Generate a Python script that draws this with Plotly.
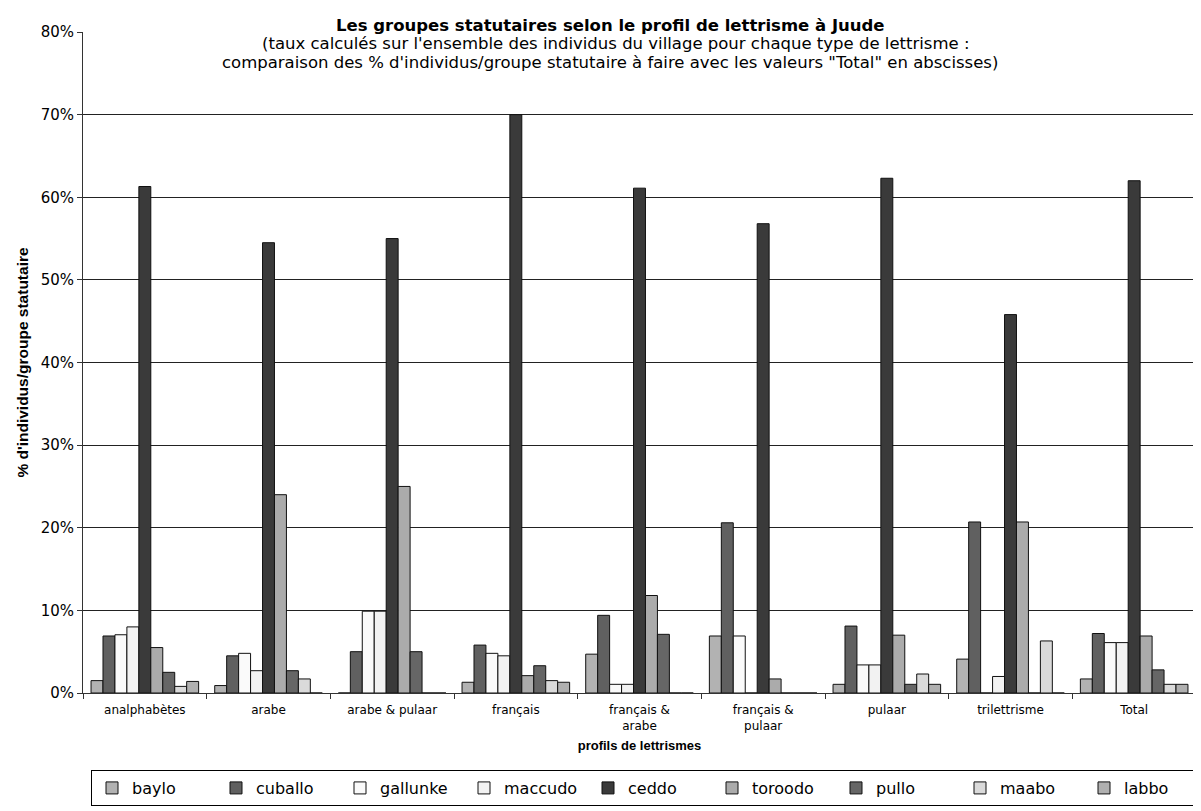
import plotly.graph_objects as go

categories = ["analphabètes", "arabe", "arabe & pulaar", "français", "français &<br>arabe",
              "français &<br>pulaar", "pulaar", "trilettrisme", "Total"]
series_names = ["baylo", "cuballo", "gallunke", "maccudo", "ceddo", "toroodo", "pullo", "maabo", "labbo"]

baylo    = [1.5, 0.9, 0.0, 1.3, 4.7, 6.9, 1.05, 4.1, 1.7]
cuballo  = [6.9, 4.5, 5.0, 5.8, 9.4, 20.6, 8.1, 20.7, 7.2]
gallunke = [7.05, 4.8, 9.9, 4.8, 1.05, 6.9, 3.4, 0.0, 6.1]
maccudo  = [8.0, 2.7, 9.9, 4.5, 1.05, 0.0, 3.4, 2.0, 6.1]
ceddo    = [61.3, 54.5, 55.0, 70.0, 61.1, 56.8, 62.3, 45.8, 62.0]
toroodo  = [5.5, 24.0, 25.0, 2.1, 11.8, 1.7, 7.0, 20.7, 6.9]
pullo    = [2.5, 2.7, 5.0, 3.3, 7.1, 0.0, 1.05, 0.0, 2.8]
maabo    = [0.8, 1.7, 0.0, 1.5, 0.0, 0.0, 2.3, 6.3, 1.05]
labbo    = [1.4, 0.0, 0.0, 1.3, 0.0, 0.0, 1.05, 0.0, 1.05]

values = [baylo, cuballo, gallunke, maccudo, ceddo, toroodo, pullo, maabo, labbo]
colors = ["#b2b2b2", "#606060", "#fafafa", "#f2f2f2", "#3a3a3a", "#ababab", "#666666", "#dadada", "#b0b0b0"]

y_ticks = [0, 10, 20, 30, 40, 50, 60, 70, 80]
y_labels = [f"{v}%" for v in y_ticks]

SANS = "DejaVu Sans, Verdana, sans-serif"
NARROW = "Liberation Sans, Arial, sans-serif"

fig = go.Figure()
for name, vals, col in zip(series_names, values, colors):
    fig.add_trace(go.Bar(
        name=name, x=categories, y=vals,
        marker=dict(color=col, line=dict(color="#111111", width=1)),
    ))

fig.update_layout(
    width=1193, height=803,
    paper_bgcolor="white", plot_bgcolor="white",
    margin=dict(l=75, r=5, t=24, b=118, autoexpand=False),
    barmode="group", bargap=0.13, bargroupgap=0,
    font=dict(family=SANS, size=13, color="#000000"),
    showlegend=True,
    legend=dict(
        orientation="h", x=0.0072, xanchor="left", y=-0.1165, yanchor="top",
        bordercolor="#000000", borderwidth=1,
        font=dict(family=SANS, size=16, color="#000000"),
        entrywidth=79, entrywidthmode="pixels",
        itemwidth=30, traceorder="normal",
    ),
    xaxis=dict(
        type="category", showline=True, linecolor="#333333", linewidth=1,
        ticks="outside", tickson="boundaries", ticklen=5, tickcolor="#333333",
        tickfont=dict(family=SANS, size=12), ticklabelstandoff=6,
        title=dict(text="<b>profils de lettrismes</b>", font=dict(family=NARROW, size=13), standoff=8),
        showgrid=False, automargin=False,
    ),
    yaxis=dict(
        range=[0, 80], tickvals=y_ticks, ticktext=y_labels,
        showline=True, linecolor="#333333", linewidth=1,
        ticks="outside", ticklen=5, tickcolor="#333333",
        tickfont=dict(family=SANS, size=15),
        showgrid=True, gridcolor="#222222", gridwidth=1,
        zeroline=False, automargin=False,
        title=dict(text="<b>% d'individus/groupe statutaire</b>", font=dict(family=NARROW, size=15.5), standoff=8),
    ),
)

fig.add_annotation(
    text="<b>Les groupes statutaires selon le profil de lettrisme à Juude</b>",
    xref="paper", yref="paper", x=0.4735, y=1.0, yshift=18, showarrow=False,
    font=dict(family=SANS, size=16.5),
)
fig.add_annotation(
    text="(taux calculés sur l'ensemble des individus du village pour chaque type de lettrisme :",
    xref="paper", yref="paper", x=0.4785, y=1.0, yshift=0, showarrow=False,
    font=dict(family=SANS, size=16.5),
)
fig.add_annotation(
    text="comparaison des % d'individus/groupe statutaire à faire avec les valeurs \"Total\" en abscisses)",
    xref="paper", yref="paper", x=0.4735, y=1.0, yshift=-19, showarrow=False,
    font=dict(family=SANS, size=16.5),
)

fig.write_html("out.html")
